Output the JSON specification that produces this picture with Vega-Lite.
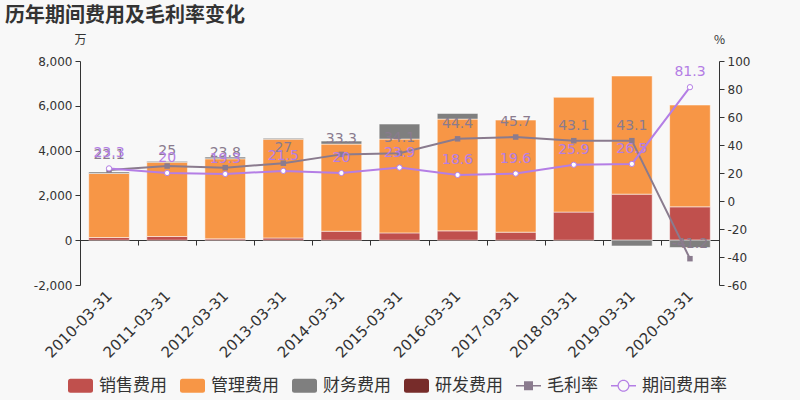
{
  "$schema": "https://vega.github.io/schema/vega-lite/v6.json",
  "width": 639,
  "height": 224,
  "autosize": {"type": "none"},
  "padding": {"left": 80, "top": 61, "right": 81, "bottom": 115},
  "background": "#f8f8f8",
  "title": {
    "text": "历年期间费用及毛利率变化",
    "anchor": "start",
    "frame": "group",
    "dx": -75,
    "offset": 7,
    "fontSize": 20,
    "fontWeight": "bold",
    "color": "#333333",
    "font": "Noto Sans CJK SC"
  },
  "config": {
    "view": {"stroke": null},
    "axis": {
      "labelFont": "DejaVu Sans",
      "labelColor": "#333333",
      "labelFontSize": 12,
      "domainColor": "#333333",
      "tickColor": "#333333",
      "grid": false,
      "titleFont": "Noto Sans CJK SC",
      "titleColor": "#333333",
      "titleFontSize": 12,
      "titleFontWeight": "normal"
    }
  },
  "datasets": {
    "bars": [
      {"d": "2010-03-31", "t": "销售费用", "v": 120, "o": 1},
      {"d": "2010-03-31", "t": "管理费用", "v": 2860, "o": 2},
      {"d": "2010-03-31", "t": "财务费用", "v": 70, "o": 3},
      {"d": "2011-03-31", "t": "销售费用", "v": 165, "o": 1},
      {"d": "2011-03-31", "t": "管理费用", "v": 3320, "o": 2},
      {"d": "2011-03-31", "t": "财务费用", "v": 40, "o": 3},
      {"d": "2012-03-31", "t": "销售费用", "v": 60, "o": 1},
      {"d": "2012-03-31", "t": "管理费用", "v": 3575, "o": 2},
      {"d": "2012-03-31", "t": "财务费用", "v": 75, "o": 3},
      {"d": "2013-03-31", "t": "销售费用", "v": 100, "o": 1},
      {"d": "2013-03-31", "t": "管理费用", "v": 4410, "o": 2},
      {"d": "2013-03-31", "t": "财务费用", "v": 45, "o": 3},
      {"d": "2014-03-31", "t": "销售费用", "v": 400, "o": 1},
      {"d": "2014-03-31", "t": "管理费用", "v": 3890, "o": 2},
      {"d": "2014-03-31", "t": "财务费用", "v": 134, "o": 3},
      {"d": "2015-03-31", "t": "销售费用", "v": 326, "o": 1},
      {"d": "2015-03-31", "t": "管理费用", "v": 4190, "o": 2},
      {"d": "2015-03-31", "t": "财务费用", "v": 670, "o": 3},
      {"d": "2016-03-31", "t": "销售费用", "v": 417, "o": 1},
      {"d": "2016-03-31", "t": "管理费用", "v": 4990, "o": 2},
      {"d": "2016-03-31", "t": "财务费用", "v": 253, "o": 3},
      {"d": "2017-03-31", "t": "销售费用", "v": 358, "o": 1},
      {"d": "2017-03-31", "t": "管理费用", "v": 5005, "o": 2},
      {"d": "2018-03-31", "t": "销售费用", "v": 1255, "o": 1},
      {"d": "2018-03-31", "t": "管理费用", "v": 5125, "o": 2},
      {"d": "2019-03-31", "t": "销售费用", "v": 2056, "o": 1},
      {"d": "2019-03-31", "t": "管理费用", "v": 5275, "o": 2},
      {"d": "2019-03-31", "t": "财务费用", "v": -258, "o": 3},
      {"d": "2020-03-31", "t": "销售费用", "v": 1490, "o": 1},
      {"d": "2020-03-31", "t": "管理费用", "v": 4545, "o": 2},
      {"d": "2020-03-31", "t": "财务费用", "v": -327, "o": 3}
    ],
    "rates": [
      {"d": "2010-03-31", "s": "毛利率", "v": 22.1},
      {"d": "2011-03-31", "s": "毛利率", "v": 25},
      {"d": "2012-03-31", "s": "毛利率", "v": 23.8},
      {"d": "2013-03-31", "s": "毛利率", "v": 27},
      {"d": "2014-03-31", "s": "毛利率", "v": 33.3},
      {"d": "2015-03-31", "s": "毛利率", "v": 34.1},
      {"d": "2016-03-31", "s": "毛利率", "v": 44.4},
      {"d": "2017-03-31", "s": "毛利率", "v": 45.7},
      {"d": "2018-03-31", "s": "毛利率", "v": 43.1},
      {"d": "2019-03-31", "s": "毛利率", "v": 43.1},
      {"d": "2020-03-31", "s": "毛利率", "v": -41.2},
      {"d": "2010-03-31", "s": "期间费用率", "v": 23.3},
      {"d": "2011-03-31", "s": "期间费用率", "v": 20},
      {"d": "2012-03-31", "s": "期间费用率", "v": 19.3},
      {"d": "2013-03-31", "s": "期间费用率", "v": 21.5},
      {"d": "2014-03-31", "s": "期间费用率", "v": 20},
      {"d": "2015-03-31", "s": "期间费用率", "v": 23.9},
      {"d": "2016-03-31", "s": "期间费用率", "v": 18.6},
      {"d": "2017-03-31", "s": "期间费用率", "v": 19.6},
      {"d": "2018-03-31", "s": "期间费用率", "v": 25.9},
      {"d": "2019-03-31", "s": "期间费用率", "v": 26.5},
      {"d": "2020-03-31", "s": "期间费用率", "v": 81.3}
    ]
  },
  "layer": [
    {
      "data": {"name": "bars"},
      "mark": {"type": "bar", "width": {"band": 0.7}, "stroke": "#ffffff", "strokeWidth": 1, "strokeOpacity": 0.5},
      "encoding": {
        "x": {
          "field": "d", "type": "ordinal",
          "scale": {"paddingInner": 0, "paddingOuter": 0},
          "axis": {
            "title": null,
            "orient": "bottom",
            "offset": -45,
            "labelAngle": -45,
            "labelAlign": "right",
            "labelBaseline": "middle",
            "labelPadding": 48,
            "labelFontSize": 15,
            "tickBand": "extent",
            "tickSize": 5
          }
        },
        "y": {
          "field": "v", "type": "quantitative", "stack": "zero",
          "scale": {"domain": [-2000, 8000], "nice": false},
          "axis": {
            "orient": "left",
            "values": [-2000, 0, 2000, 4000, 6000, 8000],
            "labelExpr": "datum.value < 0 ? '-' + format(-datum.value, ',') : format(datum.value, ',')",
            "tickSize": 5,
            "labelPadding": 3,
            "title": "万",
            "titleAngle": 0,
            "titleX": 0,
            "titleY": -22,
            "titleAlign": "center",
            "titleBaseline": "middle"
          }
        },
        "color": {
          "field": "t", "type": "nominal",
          "scale": {
            "domain": ["毛利率", "期间费用率", "销售费用", "管理费用", "财务费用", "研发费用"],
            "range": ["#8a7b8e", "#b47ee5", "#c0504d", "#f79646", "#7f7f7f", "#772c2a"]
          },
          "legend": null
        },
        "order": {"field": "o", "type": "quantitative"}
      }
    },
    {
      "data": {"name": "rates"},
      "encoding": {
        "x": {"field": "d", "type": "ordinal"},
        "y": {
          "field": "v", "type": "quantitative",
          "scale": {"domain": [-60, 100], "nice": false},
          "axis": {
            "orient": "right",
            "values": [-60, -40, -20, 0, 20, 40, 60, 80, 100],
            "labelExpr": "datum.value < 0 ? '-' + format(-datum.value, 'd') : format(datum.value, 'd')",
            "tickSize": 5,
            "labelPadding": 3,
            "title": "%",
            "titleAngle": 0,
            "titleX": 0,
            "titleY": -22,
            "titleAlign": "center",
            "titleBaseline": "middle"
          }
        },
        "color": {"field": "s", "type": "nominal", "legend": null}
      },
      "layer": [
        {"mark": {"type": "line", "strokeWidth": 2}},
        {
          "transform": [{"filter": "datum.s == '毛利率'"}],
          "mark": {"type": "square", "size": 30, "filled": true, "opacity": 1}
        },
        {
          "transform": [{"filter": "datum.s == '期间费用率'"}],
          "mark": {"type": "point", "shape": "circle", "size": 28, "filled": false, "fill": "#ffffff", "fillOpacity": 1, "strokeWidth": 1, "opacity": 1}
        },
        {
          "mark": {"type": "text", "dy": -15, "fontSize": 14, "font": "DejaVu Sans", "baseline": "middle"},
          "encoding": {"text": {"field": "v", "type": "nominal"}}
        }
      ]
    },
    {
      "data": {"name": "rates"},
      "transform": [{"filter": "false"}],
      "mark": {"type": "point", "filled": true, "opacity": 1, "strokeWidth": 0},
      "encoding": {
        "fill": {
          "field": "s", "type": "nominal",
          "scale": {
            "domain": ["销售费用", "管理费用", "财务费用", "研发费用", "毛利率", "期间费用率"],
            "range": ["#c0504d", "#f79646", "#7f7f7f", "#772c2a", "#8a7b8e", "#b47ee5"]
          },
          "legend": {
            "title": null,
            "orient": "none",
            "direction": "horizontal",
            "columns": 6,
            "legendX": -12,
            "legendY": 312,
            "symbolSize": 625,
            "symbolOpacity": 1,
            "symbolStrokeWidth": 0,
            "labelFont": "Noto Sans CJK SC",
            "labelFontSize": 17,
            "labelColor": "#333333",
            "labelOffset": 6,
            "columnPadding": 13,
            "labelLimit": 200
          }
        },
        "shape": {
          "field": "s", "type": "nominal",
          "scale": {
            "domain": ["销售费用", "管理费用", "财务费用", "研发费用", "毛利率", "期间费用率"],
            "range": [
              "M-0.8,-0.56H0.8Q1,-0.56 1,-0.36V0.36Q1,0.56 0.8,0.56H-0.8Q-1,0.56 -1,0.36V-0.36Q-1,-0.56 -0.8,-0.56Z",
              "M-0.8,-0.56H0.8Q1,-0.56 1,-0.36V0.36Q1,0.56 0.8,0.56H-0.8Q-1,0.56 -1,0.36V-0.36Q-1,-0.56 -0.8,-0.56Z",
              "M-0.8,-0.56H0.8Q1,-0.56 1,-0.36V0.36Q1,0.56 0.8,0.56H-0.8Q-1,0.56 -1,0.36V-0.36Q-1,-0.56 -0.8,-0.56Z",
              "M-0.8,-0.56H0.8Q1,-0.56 1,-0.36V0.36Q1,0.56 0.8,0.56H-0.8Q-1,0.56 -1,0.36V-0.36Q-1,-0.56 -0.8,-0.56Z",
              "M-1,-0.06H1V0.06H-1ZM-0.36,-0.36H0.36V0.36H-0.36Z",
              "M-1,-0.06H-0.46V0.06H-1ZM0.46,-0.06H1V0.06H0.46ZM0.48,0A0.48,0.48 0 1,1 -0.48,0A0.48,0.48 0 1,1 0.48,0ZM0.38,0A0.38,0.38 0 1,0 -0.38,0A0.38,0.38 0 1,0 0.38,0Z"
            ]
          },
          "legend": {
            "title": null,
            "orient": "none",
            "direction": "horizontal",
            "columns": 6,
            "legendX": -12,
            "legendY": 312,
            "symbolSize": 625,
            "symbolOpacity": 1,
            "symbolStrokeWidth": 0,
            "labelFont": "Noto Sans CJK SC",
            "labelFontSize": 17,
            "labelColor": "#333333",
            "labelOffset": 6,
            "columnPadding": 13,
            "labelLimit": 200
          }
        }
      }
    }
  ],
  "resolve": {"scale": {"y": "independent"}}
}
